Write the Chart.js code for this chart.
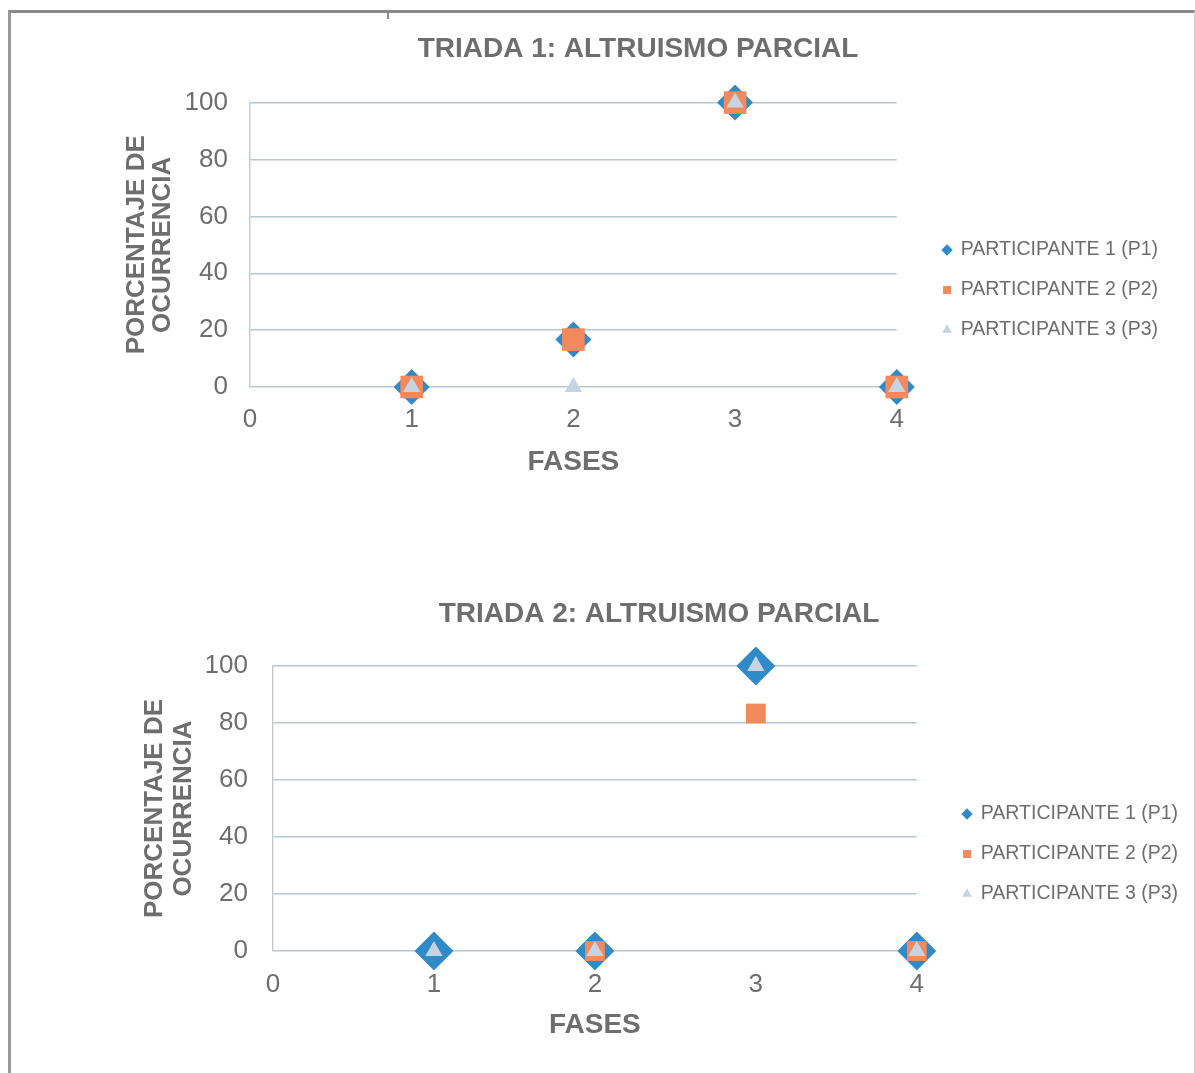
<!DOCTYPE html>
<html>
<head>
<meta charset="utf-8">
<script src="https://cdn.jsdelivr.net/npm/chart.js@4/dist/chart.umd.min.js"></script>
<style>
  html, body { margin: 0; padding: 0; background: #ffffff; overflow: hidden; width: 1195px; height: 1073px; }
  #frame { position: absolute; left: 8px; top: 10px; width: 1183px; height: 1080px;
           border-top: 3px solid #8a8a8a; border-left: 3px solid #9a9a9a; border-right: 1px solid #d0d0d0; }
  #mark { position: absolute; left: 387px; top: 10px; width: 2px; height: 9px; background: #8a8a8a; }
  .wrap { position: absolute; left: 0; width: 1195px; }
  #w1 { top: 2px; height: 576px; }
  #w2 { top: 562px; height: 584px; }
</style>
</head>
<body>
<div id="frame"></div>
<div id="mark"></div>
<div class="wrap" id="w1"><canvas id="c1"></canvas></div>
<div class="wrap" id="w2"><canvas id="c2"></canvas></div>
<script>
// ---- data ----
const fases = [1, 2, 3, 4];
const seriesNames = ['PARTICIPANTE 1 (P1)', 'PARTICIPANTE 2 (P2)', 'PARTICIPANTE 3 (P3)'];
const xTicks = [0, 1, 2, 3, 4];
const yTicks = [0, 20, 40, 60, 80, 100];

const triada1Title = 'TRIADA 1: ALTRUISMO PARCIAL';
const t1_p1 = [0, 16.67, 100, 0];
const t1_p2 = [0, 16.67, 100, 0];
const t1_p3 = [0, 0, 100, 0];

const triada2Title = 'TRIADA 2: ALTRUISMO PARCIAL';
const t2_p1 = [0, 0, 100, 0];
const t2_p2 = [null, 0, 83.33, 0];
const t2_p3 = [0, 0, 100, 0];

const xTitle = 'FASES';
const yTitle = ['PORCENTAJE DE', 'OCURRENCIA'];

// ---- styling ----
const FONT = "'Liberation Sans', Arial, sans-serif";
const TXT = '#6e6e6e';
const BLUE = '#2f8ac8';
const ORANGE = '#f4895c';
const LIGHT = '#c6d3e3';
const GRID = '#b5c8d6';

function pts(vals) {
  const out = [];
  vals.forEach((v, i) => { if (v !== null) out.push({ x: fases[i], y: v }); });
  return out;
}

// moves the legend box sideways after layout, leaving a gap between plot and legend
const shiftLegend = {
  id: 'shiftLegend',
  afterLayout(chart, args, opts) {
    const l = chart.legend;
    if (l && opts.dx) { l.left += opts.dx; l.right += opts.dx; }
  }
};

function makeChart(id, cfg) {
  const datasets = [
    { label: seriesNames[0], data: pts(cfg.p1), pointStyle: 'rectRot', pointRadius: cfg.r1, pointHoverRadius: cfg.r1,
      backgroundColor: BLUE, borderColor: BLUE, borderWidth: 0, order: 3, clip: false },
    { label: seriesNames[1], data: pts(cfg.p2), pointStyle: 'rect', pointRadius: cfg.r2, pointHoverRadius: cfg.r2,
      backgroundColor: ORANGE, borderColor: ORANGE, borderWidth: 0, order: 2, clip: false },
    { label: seriesNames[2], data: pts(cfg.p3), pointStyle: 'triangle', pointRadius: cfg.r3, pointHoverRadius: cfg.r3,
      backgroundColor: LIGHT, borderColor: LIGHT, borderWidth: 0, order: 1, clip: false }
  ];
  return new Chart(document.getElementById(id), {
    type: 'scatter',
    data: { datasets },
    plugins: [shiftLegend],
    options: {
      responsive: true,
      maintainAspectRatio: false,
      animation: false,
      events: [],
      layout: { padding: { left: cfg.padL, right: cfg.padR, top: 0, bottom: 0 } },
      plugins: {
        shiftLegend: { dx: cfg.legendShift },
        title: {
          display: true, text: cfg.title, color: TXT,
          font: { family: FONT, size: 28, weight: 'bold', lineHeight: 1.2 },
          padding: { top: cfg.titleTop, bottom: cfg.titleBottom }
        },
        legend: {
          position: 'right',
          align: 'center',
          labels: {
            usePointStyle: true,
            boxWidth: 8, boxHeight: 8,
            padding: 20.5,
            color: TXT,
            font: { family: FONT, size: 19.5 },
            sort: (a, b) => a.datasetIndex - b.datasetIndex
          }
        },
        tooltip: { enabled: false }
      },
      scales: {
        x: {
          type: 'linear', min: 0, max: 4,
          afterBuildTicks: (s) => { s.ticks = xTicks.map(v => ({ value: v })); },
          grid: { display: false, drawTicks: false },
          border: { display: false },
          ticks: { color: TXT, font: { family: FONT, size: 26, lineHeight: 1.2 }, padding: cfg.xTickPad },
          title: {
            display: true, text: xTitle, color: TXT,
            font: { family: FONT, size: 28, weight: 'bold', lineHeight: 1.2 },
            padding: { top: cfg.xTitleTop, bottom: cfg.xTitleBottom }
          }
        },
        y: {
          type: 'linear', min: 0, max: 100,
          afterBuildTicks: (s) => { s.ticks = yTicks.map(v => ({ value: v })); },
          afterFit: (s) => { s.width = cfg.yWidth; },
          grid: { color: GRID, lineWidth: 1.4, drawTicks: false },
          border: { display: true, color: '#c4c8cc', width: 1.4 },
          ticks: { color: TXT, font: { family: FONT, size: 26, lineHeight: 1.2 }, padding: cfg.yTickPad },
          title: {
            display: true, text: yTitle, color: TXT,
            font: { family: FONT, size: 26, weight: 'bold', lineHeight: cfg.yTitleLH },
            padding: { top: cfg.yTitleTop, bottom: 0 }
          }
        }
      }
    }
  });
}

makeChart('c1', {
  title: triada1Title, p1: t1_p1, p2: t1_p2, p3: t1_p3,
  r1: 18, r2: 16, r3: 10,
  padL: 133.75, padR: 52.75, legendShift: 25.75,
  titleTop: 30.8, titleBottom: 36.2,
  xTickPad: 17.4, xTitleTop: -7.8, xTitleBottom: 99.2,
  yWidth: 116.25, yTickPad: 22, yTitleLH: 1.0, yTitleTop: -9.75
});

makeChart('c2', {
  title: triada2Title, p1: t2_p1, p2: t2_p2, p3: t2_p3,
  r1: 19.5, r2: 14, r3: 10,
  padL: 155.75, padR: 32.75, legendShift: 25.75,
  titleTop: 35.2, titleBottom: 35.2,
  xTickPad: 18.4, xTitleTop: -10.8, xTitleBottom: 104.2,
  yWidth: 117.25, yTickPad: 25, yTitleLH: 1.1, yTitleTop: -15.05
});
</script>
</body>
</html>
